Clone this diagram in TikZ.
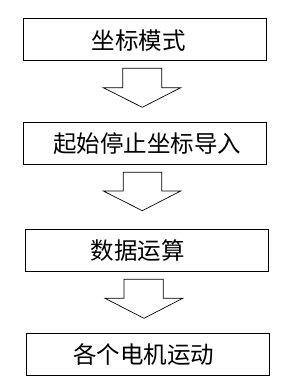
\documentclass[tikz,border=0pt]{standalone}
\usepackage{fontspec}
\newfontfamily\cjk{Noto Sans CJK SC}
\begin{document}
\begin{tikzpicture}[x=1pt,y=-1pt,
  stepbox/.style={draw=black,line width=1pt,fill=white},
  flowarrow/.style={draw=black,line width=0.7pt,fill=white,line join=miter},
  lbl/.style={font=\cjk\fontsize{23.5}{25}\selectfont,inner sep=0pt,anchor=center}]
\useasboundingbox (0,0) rectangle (283,381);
% boxes
\draw[stepbox] (23.3,18.3) rectangle (266.7,60.3);
\draw[stepbox] (23.3,122.7) rectangle (266.7,164);
\draw[stepbox] (25.7,229.3) rectangle (268.3,271.3);
\draw[stepbox] (26.7,333.3) rectangle (269.3,375.3);
% labels
\node[lbl] (t1) at (139,41) {坐标模式};
\node[lbl] (t2) at (147.2,144) {起始停止坐标导入};
\node[lbl] (t3) at (137.8,251) {数据运算};
\node[lbl] (t4) at (144,355) {各个电机运动};
% block arrows
\draw[flowarrow] (122.7,68.3) -- (161.7,68.3) -- (161.7,87.7) -- (180.7,87.7) -- (142.3,107.3) -- (103.3,87.7) -- (122.7,87.7) -- cycle;
\draw[flowarrow] (123.3,172.3) -- (161.7,172.3) -- (161.7,191) -- (180.7,191) -- (142.3,210.7) -- (103.3,191) -- (123.3,191) -- cycle;
\draw[flowarrow] (124,279.3) -- (163.3,279.3) -- (163.3,298.3) -- (182.7,298.3) -- (144,318.3) -- (105,298.3) -- (124,298.3) -- cycle;
\end{tikzpicture}
\end{document}
